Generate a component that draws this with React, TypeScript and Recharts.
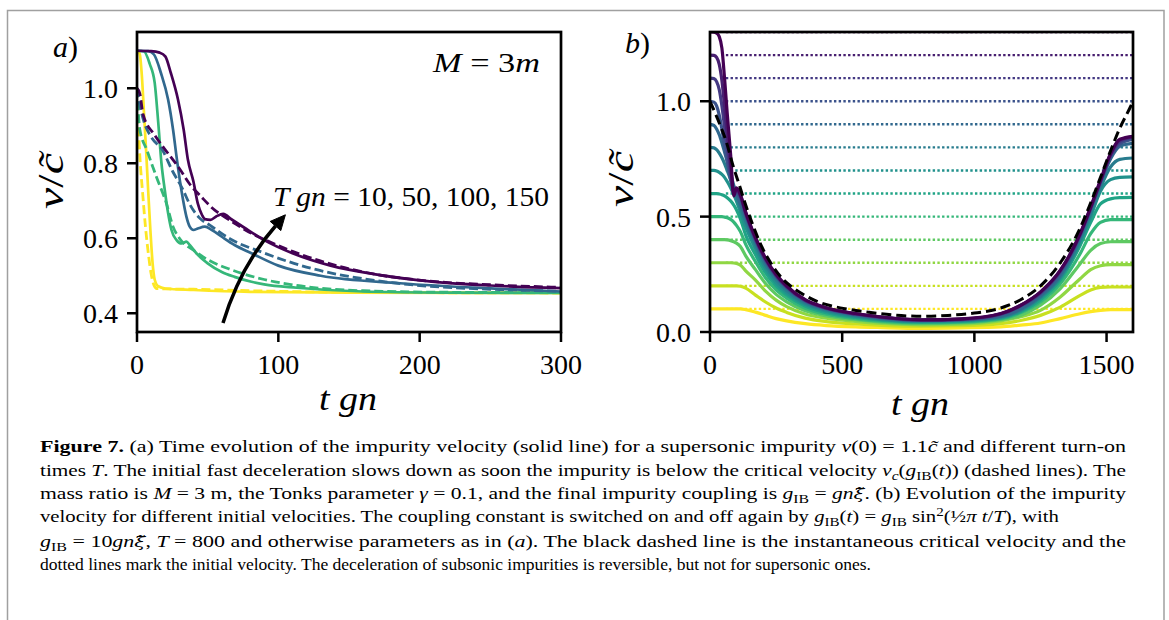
import React from 'react';
import { LineChart, Line, XAxis, YAxis } from 'recharts';

// ---------- Panel (a): M = 3m, turn-on times T gn = 10, 50, 100, 150 ----------
const A_T10_T = [0, 1, 2, 3.5, 5, 6.5, 8, 9.5, 11, 12.5, 15, 20, 40, 80, 150, 300];
const A_T10_V = [1.1, 1.098, 1.09, 1.03, 0.93, 0.83, 0.72, 0.62, 0.535, 0.49, 0.472, 0.466, 0.462, 0.457, 0.455, 0.454];
const A_T10D_T = [0, 1, 2, 4, 6, 8, 10, 12, 14, 20, 40, 80, 150, 300];
const A_T10D_V = [1.0, 0.9, 0.82, 0.72, 0.63, 0.56, 0.505, 0.475, 0.466, 0.465, 0.464, 0.46, 0.456, 0.454];

const A_T50_T = [0, 5, 9, 12.5, 15, 17.3, 19.6, 22, 24.4, 28, 31.5, 35, 37.3, 42, 50, 60, 69, 81, 90, 113, 160, 220, 300];
const A_T50_V = [1.1, 1.098, 1.065, 1.015, 0.91, 0.8, 0.73, 0.667, 0.622, 0.595, 0.586, 0.591, 0.582, 0.56, 0.533, 0.51, 0.497, 0.484, 0.477, 0.468, 0.458, 0.455, 0.454];
const A_T50D_T = [0, 2, 7, 13.7, 20.8, 25.5, 30, 40, 50, 66, 90, 113, 160, 220, 300];
const A_T50D_V = [1.0, 0.89, 0.835, 0.764, 0.693, 0.631, 0.6, 0.568, 0.543, 0.517, 0.49, 0.474, 0.46, 0.456, 0.455];

const A_T100_T = [0, 8, 12, 17, 22, 25.5, 28, 30.3, 32.6, 35, 37.3, 40, 43, 48, 53, 60, 69, 81, 100, 130, 186, 257, 300];
const A_T100_V = [1.1, 1.099, 1.09, 1.04, 0.97, 0.89, 0.817, 0.755, 0.702, 0.657, 0.631, 0.622, 0.626, 0.631, 0.622, 0.604, 0.582, 0.56, 0.527, 0.5, 0.48, 0.465, 0.458];
const A_T100D_T = [0, 2, 5, 10, 18, 25, 32.6, 37, 44, 51.5, 66, 89, 125, 160, 200, 250, 300];
const A_T100D_V = [1.0, 0.955, 0.91, 0.87, 0.835, 0.78, 0.729, 0.693, 0.655, 0.635, 0.598, 0.562, 0.518, 0.492, 0.474, 0.464, 0.459];

const A_T150_T = [0, 10, 16, 20, 24, 29, 33, 36, 40, 43, 46, 48, 52, 56, 61, 67, 76, 90, 110, 137, 170, 207, 250, 300];
const A_T150_V = [1.1, 1.099, 1.095, 1.085, 1.04, 0.97, 0.89, 0.81, 0.75, 0.693, 0.662, 0.651, 0.649, 0.658, 0.665, 0.65, 0.628, 0.595, 0.56, 0.527, 0.503, 0.485, 0.474, 0.467];
const A_T150D_T = [0, 2, 4.3, 12.5, 22, 30, 37, 45.6, 55, 60, 69, 81, 90, 110, 125, 160, 203, 250, 300];
const A_T150D_V = [1.0, 0.986, 0.93, 0.875, 0.826, 0.786, 0.746, 0.71, 0.675, 0.662, 0.64, 0.613, 0.597, 0.565, 0.545, 0.51, 0.487, 0.476, 0.469];

const A_COLORS = ['#fde725', '#35b779', '#31688e', '#440154'];
const A_XTICKS = [0, 100, 200, 300];
const A_YTICKS = [0.4, 0.6, 0.8, 1.0];

// ---------- Panel (b): initial velocities 0.1 ... 1.3 ----------
const B_T = [0, 15, 25, 35, 45, 55, 65, 78, 90, 100, 115, 135, 172, 210, 250, 290, 360, 440, 550, 650, 800, 950, 1100, 1175, 1250, 1325, 1400, 1440, 1477, 1515, 1550, 1600];
const B_V01 = [0.1, 0.1, 0.1, 0.1, 0.1, 0.1, 0.1, 0.1, 0.1, 0.1, 0.1, 0.097, 0.086, 0.072, 0.058, 0.048, 0.036, 0.028, 0.022, 0.019, 0.016, 0.018, 0.022, 0.03, 0.039, 0.058, 0.079, 0.088, 0.094, 0.097, 0.097, 0.097];
const B_V02 = [0.2, 0.2, 0.2, 0.2, 0.2, 0.2, 0.2, 0.2, 0.2, 0.2, 0.198, 0.19, 0.16, 0.13, 0.104, 0.085, 0.06, 0.045, 0.035, 0.029, 0.025, 0.027, 0.036, 0.05, 0.072, 0.108, 0.159, 0.182, 0.193, 0.195, 0.195, 0.195];
const B_V03 = [0.3, 0.3, 0.3, 0.3, 0.3, 0.3, 0.3, 0.3, 0.299, 0.297, 0.29, 0.265, 0.225, 0.177, 0.138, 0.11, 0.078, 0.06, 0.046, 0.037, 0.031, 0.034, 0.048, 0.066, 0.094, 0.152, 0.231, 0.27, 0.287, 0.292, 0.292, 0.292];
const B_V04 = [0.4, 0.4, 0.4, 0.4, 0.4, 0.4, 0.399, 0.396, 0.391, 0.385, 0.37, 0.33, 0.27, 0.21, 0.163, 0.131, 0.092, 0.07, 0.053, 0.043, 0.036, 0.039, 0.053, 0.072, 0.116, 0.188, 0.296, 0.354, 0.383, 0.391, 0.392, 0.392];
const B_V05 = [0.5, 0.5, 0.5, 0.5, 0.5, 0.498, 0.495, 0.488, 0.476, 0.462, 0.435, 0.38, 0.305, 0.235, 0.183, 0.147, 0.103, 0.077, 0.058, 0.047, 0.04, 0.043, 0.057, 0.083, 0.13, 0.209, 0.339, 0.426, 0.475, 0.487, 0.487, 0.487];
const B_V06 = [0.6, 0.6, 0.6, 0.598, 0.595, 0.59, 0.582, 0.568, 0.55, 0.53, 0.49, 0.42, 0.335, 0.257, 0.2, 0.16, 0.112, 0.084, 0.063, 0.051, 0.043, 0.046, 0.06, 0.088, 0.14, 0.225, 0.375, 0.475, 0.555, 0.577, 0.582, 0.583];
const B_V07 = [0.7, 0.7, 0.698, 0.692, 0.683, 0.67, 0.652, 0.625, 0.595, 0.567, 0.52, 0.455, 0.36, 0.275, 0.213, 0.17, 0.12, 0.09, 0.067, 0.054, 0.046, 0.049, 0.063, 0.092, 0.148, 0.235, 0.39, 0.5, 0.61, 0.66, 0.67, 0.672];
const B_V08 = [0.8, 0.798, 0.79, 0.775, 0.755, 0.73, 0.7, 0.66, 0.618, 0.585, 0.54, 0.48, 0.38, 0.29, 0.226, 0.18, 0.126, 0.095, 0.071, 0.057, 0.048, 0.051, 0.066, 0.096, 0.153, 0.24, 0.4, 0.515, 0.625, 0.715, 0.748, 0.754];
const B_V09 = [0.9, 0.895, 0.88, 0.855, 0.82, 0.78, 0.74, 0.685, 0.635, 0.6, 0.555, 0.5, 0.395, 0.305, 0.238, 0.19, 0.133, 0.1, 0.075, 0.06, 0.05, 0.053, 0.069, 0.1, 0.158, 0.248, 0.415, 0.53, 0.645, 0.75, 0.805, 0.817];
const B_V10 = [1.0, 0.996, 0.98, 0.94, 0.88, 0.81, 0.74, 0.66, 0.61, 0.605, 0.582, 0.51, 0.4, 0.31, 0.243, 0.194, 0.136, 0.102, 0.077, 0.062, 0.051, 0.054, 0.076, 0.112, 0.167, 0.26, 0.42, 0.535, 0.65, 0.76, 0.815, 0.835];
const B_V11 = [1.1, 1.098, 1.085, 1.05, 0.98, 0.89, 0.8, 0.69, 0.61, 0.615, 0.588, 0.514, 0.404, 0.314, 0.245, 0.196, 0.137, 0.103, 0.078, 0.063, 0.052, 0.055, 0.078, 0.114, 0.17, 0.264, 0.422, 0.537, 0.652, 0.765, 0.825, 0.843];
const B_V12 = [1.2, 1.199, 1.19, 1.16, 1.09, 0.98, 0.86, 0.72, 0.6, 0.62, 0.592, 0.517, 0.407, 0.317, 0.247, 0.198, 0.138, 0.104, 0.079, 0.064, 0.052, 0.056, 0.079, 0.115, 0.172, 0.266, 0.424, 0.54, 0.655, 0.77, 0.832, 0.846];
const B_V13 = [1.3, 1.299, 1.295, 1.28, 1.23, 1.1, 0.95, 0.77, 0.59, 0.625, 0.595, 0.52, 0.41, 0.32, 0.25, 0.2, 0.14, 0.105, 0.08, 0.065, 0.053, 0.057, 0.08, 0.116, 0.174, 0.268, 0.426, 0.542, 0.658, 0.773, 0.835, 0.848];

const B_V0 = [0.1, 0.2, 0.3, 0.4, 0.5, 0.6, 0.7, 0.8, 0.9, 1.0, 1.1, 1.2, 1.3];
const B_COLORS = ['#fde725', '#c8e020', '#90d743', '#5ec962', '#35b779', '#20a486', '#21918c', '#287c8e', '#31688e', '#3b528b', '#443983', '#481f70', '#440154'];
const B_DOT_T = [60, 1600];

const B_DASH_T = [0, 30, 60, 90, 110, 135, 160, 200, 235, 275, 310, 360, 410, 460, 510, 600, 700, 800, 900, 1000, 1100, 1175, 1250, 1325, 1400, 1440, 1477, 1515, 1552, 1590, 1600];
const B_DASH_V = [1.0, 0.92, 0.83, 0.71, 0.64, 0.55, 0.47, 0.36, 0.29, 0.23, 0.195, 0.158, 0.13, 0.113, 0.101, 0.086, 0.073, 0.068, 0.072, 0.082, 0.104, 0.14, 0.2, 0.3, 0.45, 0.56, 0.67, 0.785, 0.888, 0.975, 1.0];

const B_XTICKS = [0, 500, 1000, 1500];
const B_YTICKS = [0, 0.5, 1.0];

// ---------- helpers ----------
const zip = (t: number[], v: number[]) => t.map((x, i) => ({ t: x, v: v[i] }));
const FONT = "'Liberation Serif', 'Times New Roman', serif";
const tickStyle = { fill: '#000', fontSize: 28, fontFamily: FONT };
const tickLineStyle = { stroke: '#000', strokeWidth: 2.5 };

const A_SERIES = [
  { solid: zip(A_T10_T, A_T10_V), dashed: zip(A_T10D_T, A_T10D_V) },
  { solid: zip(A_T50_T, A_T50_V), dashed: zip(A_T50D_T, A_T50D_V) },
  { solid: zip(A_T100_T, A_T100_V), dashed: zip(A_T100D_T, A_T100D_V) },
  { solid: zip(A_T150_T, A_T150_V), dashed: zip(A_T150D_T, A_T150D_V) },
];
const B_VALUES = [B_V01, B_V02, B_V03, B_V04, B_V05, B_V06, B_V07, B_V08, B_V09, B_V10, B_V11, B_V12, B_V13];

function PanelA() {
  return (
    <LineChart width={600} height={420} margin={{ top: 32, right: 39, bottom: 48, left: 57 }}>
      <XAxis type="number" dataKey="t" domain={[0, 300]} ticks={A_XTICKS} allowDataOverflow
        height={40} axisLine={false} tickLine={tickLineStyle} tickSize={10} tickMargin={12} tick={tickStyle} />
      <YAxis type="number" dataKey="v" domain={[0.35, 1.15]} ticks={A_YTICKS} allowDataOverflow
        width={80} axisLine={false} tickLine={tickLineStyle} tickSize={10} tickMargin={9} tick={tickStyle}
        tickFormatter={(v: number) => v.toFixed(1)} />
      {A_SERIES.map((s, i) => [
        <Line key={'s' + i} data={s.solid} dataKey="v" type="monotone" stroke={A_COLORS[i]} strokeWidth={2.7}
          dot={false} activeDot={false} isAnimationActive={false} />,
        <Line key={'d' + i} data={s.dashed} dataKey="v" type="monotone" stroke={A_COLORS[i]} strokeWidth={2.8}
          strokeDasharray="9 4" dot={false} activeDot={false} isAnimationActive={false} />,
      ])}
    </LineChart>
  );
}

function PanelB() {
  return (
    <LineChart width={569} height={420} margin={{ top: 32, right: 36, bottom: 48, left: 30 }}>
      <XAxis type="number" dataKey="t" domain={[0, 1600]} ticks={B_XTICKS} allowDataOverflow
        height={40} axisLine={false} tickLine={tickLineStyle} tickSize={10} tickMargin={12} tick={tickStyle} />
      <YAxis type="number" dataKey="v" domain={[0, 1.3]} ticks={B_YTICKS} allowDataOverflow
        width={80} axisLine={false} tickLine={tickLineStyle} tickSize={10} tickMargin={9} tick={tickStyle}
        tickFormatter={(v: number) => v.toFixed(1)} />
      {B_V0.map((v0, i) => (
        <Line key={'dot' + i} data={B_DOT_T.map((t) => ({ t, v: v0 }))} dataKey="v" type="linear"
          stroke={B_COLORS[i]} strokeWidth={2.4} strokeDasharray="2.4 2.3" dot={false} activeDot={false}
          isAnimationActive={false} />
      ))}
      {B_VALUES.map((vals, i) => (
        <Line key={'c' + i} data={zip(B_T, vals)} dataKey="v" type="monotone" stroke={B_COLORS[i]}
          strokeWidth={3.2} dot={false} activeDot={false} isAnimationActive={false} />
      ))}
      <Line data={zip(B_DASH_T, B_DASH_V)} dataKey="v" type="monotone" stroke="#000" strokeWidth={3}
        strokeDasharray="10 5" dot={false} activeDot={false} isAnimationActive={false} />
    </LineChart>
  );
}

const XI_T = 'ξ\u0303';

function Overlay() {
  const it = { fontStyle: 'italic' as const };
  return (
    <svg width={1169} height={620} style={{ position: 'absolute', left: 0, top: 0, pointerEvents: 'none', fontFamily: FONT }}
      fill="#000">
      {/* figure frame */}
      <path d="M7.5 640 L7.5 10.5 L1164 10.5 L1164 640" fill="none" stroke="#a0a0a0" strokeWidth={1.5} />
      {/* panel boxes */}
      <rect x={137} y={32} width={424} height={300} fill="none" stroke="#000" strokeWidth={2.7} />
      <rect x={710} y={32} width={423} height={300} fill="none" stroke="#000" strokeWidth={2.7} />

      {/* panel labels */}
      <text x={53} y={57} fontSize={30}><tspan {...it}>a</tspan>)</text>
      <text x={625} y={53} fontSize={30}><tspan {...it}>b</tspan>)</text>

      {/* y labels */}
      <text transform="translate(51,181) rotate(-90)" textAnchor="middle" dominantBaseline="central" fontSize={35}
        textLength={56} lengthAdjust="spacingAndGlyphs">
        <tspan {...it}>v</tspan>/<tspan {...it}>{'c\u0303'}</tspan>
      </text>
      <text transform="translate(621,179) rotate(-90)" textAnchor="middle" dominantBaseline="central" fontSize={35}
        textLength={56} lengthAdjust="spacingAndGlyphs">
        <tspan {...it}>v</tspan>/<tspan {...it}>{'c\u0303'}</tspan>
      </text>

      {/* x labels */}
      <text x={348} y={410} textAnchor="middle" fontSize={33} fontStyle="italic" textLength={58} lengthAdjust="spacingAndGlyphs">t gn</text>
      <text x={920} y={415} textAnchor="middle" fontSize={33} fontStyle="italic" textLength={58} lengthAdjust="spacingAndGlyphs">t gn</text>

      {/* annotations panel a */}
      <text x={433} y={72} fontSize={27} textLength={107} lengthAdjust="spacingAndGlyphs">
        <tspan {...it}>M</tspan> = 3<tspan {...it}>m</tspan>
      </text>
      <text x={273} y={206} fontSize={27} textLength={276} lengthAdjust="spacingAndGlyphs">
        <tspan {...it}>T gn</tspan> = 10, 50, 100, 150
      </text>
      <path d="M223 323 Q240.2 266.2 275.5 226" fill="none" stroke="#000" strokeWidth={3.5} />
      <path d="M285.4 214.8 L280.8 230.6 L270.2 221.4 Z" fill="#000" stroke="#000" strokeWidth={1} />

      {/* caption */}
      <g fontSize={16.5}>
        <text x={40} y={452} textLength={1086} lengthAdjust="spacingAndGlyphs">
          <tspan fontWeight="bold">Figure 7.</tspan> (a) Time evolution of the impurity velocity (solid line) for a supersonic impurity <tspan {...it}>v</tspan>(0) = 1.1<tspan {...it}>{'c\u0303'}</tspan> and different turn-on
        </text>
        <text x={40} y={475.5} textLength={1086} lengthAdjust="spacingAndGlyphs">
          times <tspan {...it}>T</tspan>. The initial fast deceleration slows down as soon the impurity is below the critical velocity <tspan {...it}>v</tspan><tspan dy={4} fontSize={12} {...it}>c</tspan><tspan dy={-4}>(</tspan><tspan {...it}>g</tspan><tspan dy={4} fontSize={12}>IB</tspan><tspan dy={-4}>(</tspan><tspan {...it}>t</tspan>)) (dashed lines). The
        </text>
        <text x={40} y={499} textLength={1086} lengthAdjust="spacingAndGlyphs">
          mass ratio is <tspan {...it}>M</tspan> = 3 m, the Tonks parameter <tspan {...it}>γ</tspan> = 0.1, and the final impurity coupling is <tspan {...it}>g</tspan><tspan dy={4} fontSize={12}>IB</tspan><tspan dy={-4}> = </tspan><tspan {...it}>gn</tspan><tspan fontFamily="'DejaVu Serif'" fontStyle="italic" fontSize={15}>{XI_T}</tspan>. (b) Evolution of the impurity
        </text>
        <text x={40} y={522} textLength={1019} lengthAdjust="spacingAndGlyphs">
          velocity for different initial velocities. The coupling constant is switched on and off again by <tspan {...it}>g</tspan><tspan dy={4} fontSize={12}>IB</tspan><tspan dy={-4}>(</tspan><tspan {...it}>t</tspan>) = <tspan {...it}>g</tspan><tspan dy={4} fontSize={12}>IB</tspan><tspan dy={-4}> sin</tspan><tspan dy={-6} fontSize={12}>2</tspan><tspan dy={6}>(½</tspan><tspan {...it}>π t</tspan>/<tspan {...it}>T</tspan>), with
        </text>
        <text x={40} y={546.5} textLength={1086} lengthAdjust="spacingAndGlyphs">
          <tspan {...it}>g</tspan><tspan dy={4} fontSize={12}>IB</tspan><tspan dy={-4}> = 10</tspan><tspan {...it}>gn</tspan><tspan fontFamily="'DejaVu Serif'" fontStyle="italic" fontSize={15}>{XI_T}</tspan>, <tspan {...it}>T</tspan> = 800 and otherwise parameters as in (<tspan {...it}>a</tspan>). The black dashed line is the instantaneous critical velocity and the
        </text>
        <text x={40} y={569.5} textLength={831} lengthAdjust="spacingAndGlyphs">
          dotted lines mark the initial velocity. The deceleration of subsonic impurities is reversible, but not for supersonic ones.
        </text>
      </g>
    </svg>
  );
}

export default function App() {
  return (
    <div style={{ position: 'absolute', left: 0, top: 0, width: 1169, height: 620, background: '#fff', overflow: 'hidden' }}>
      <div style={{ position: 'absolute', left: 0, top: 0 }}>
        <PanelA />
      </div>
      <div style={{ position: 'absolute', left: 600, top: 0 }}>
        <PanelB />
      </div>
      <Overlay />
    </div>
  );
}
